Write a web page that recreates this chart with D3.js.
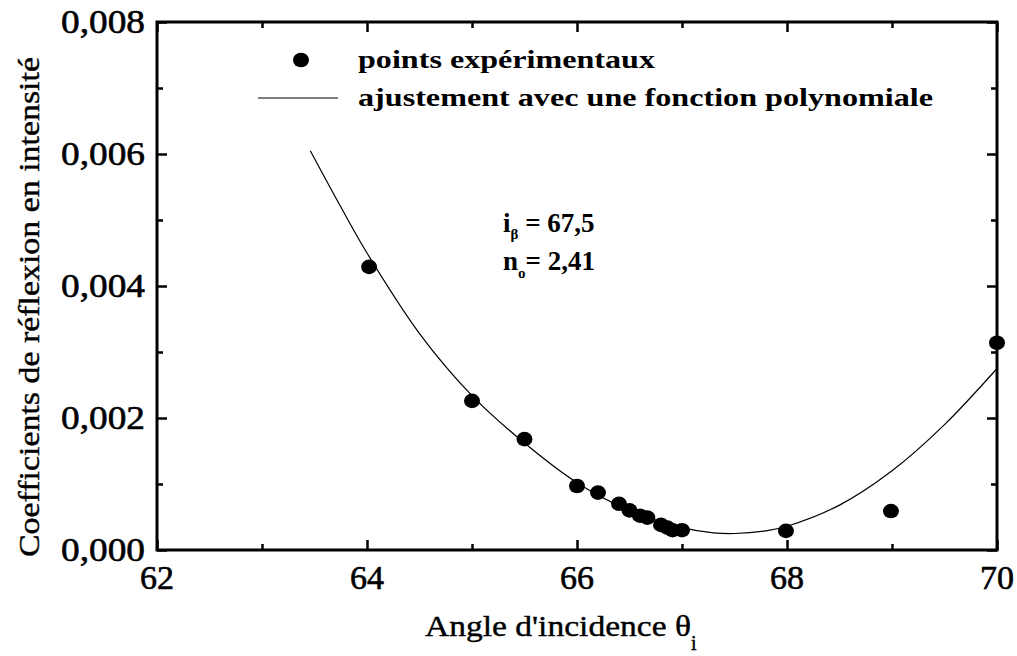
<!DOCTYPE html>
<html>
<head>
<meta charset="utf-8">
<script src="https://cdn.jsdelivr.net/npm/d3@7.8.5/dist/d3.min.js"></script>
<style>
  body { margin: 0; background: #fff; }
</style>
</head>
<body>
<div id="chart"></div>
<script>
// measured points (angle in degrees, reflection coefficient)
const angles = [64.02, 65.0, 65.5, 66.0, 66.2, 66.4, 66.5, 66.6, 66.67, 66.8, 66.86, 66.91, 67.0, 67.99, 68.99, 70.0];
const coeffs = [0.00429, 0.00226, 0.00168, 0.00097, 0.00087, 0.0007, 0.0006, 0.00052, 0.00049, 0.00038, 0.00034, 0.0003, 0.0003, 0.00029, 0.00059, 0.00314];

// polynomial fit
const fitAngles = [63.46, 63.75, 64.0, 64.5, 65.0, 65.5, 66.0, 66.5, 67.0, 67.3, 67.5, 67.8, 68.0, 68.5, 69.0, 69.5, 70.0];
const fitValues = [0.00605, 0.0052, 0.0045, 0.00328, 0.00234, 0.00162, 0.00102, 0.0006, 0.00034, 0.00026, 0.00025, 0.00029, 0.00036, 0.00068, 0.0012, 0.0019, 0.00275];

const xTicks = [62, 64, 66, 68, 70];
const xMinor = [63, 65, 67, 69];
const yTicks = [0, 0.002, 0.004, 0.006, 0.008];
const yMinor = [0.001, 0.003, 0.005, 0.007];

const legendLabels = ["points expérimentaux", "ajustement avec une fonction polynomiale"];

const width = 1017, height = 656;
const margin = { top: 22, right: 20, bottom: 106, left: 157 };
const serif = "Liberation Serif";

const svg = d3.select("#chart").append("svg")
  .attr("width", width)
  .attr("height", height);

const x = d3.scaleLinear().domain([62, 70]).range([margin.left, width - margin.right]);
const y = d3.scaleLinear().domain([0, 0.008]).range([height - margin.bottom, margin.top]);

const fmt = (d) => d3.format(".3f")(d).replace(".", ",");

// ticks on all four sides, pointing inward
function tickLines(axisFn, scale, values, len, translate) {
  const g = svg.append("g").attr("transform", translate)
    .call(axisFn(scale).tickValues(values).tickSizeInner(-len).tickSizeOuter(0).tickFormat(""));
  g.select(".domain").remove();
  g.selectAll(".tick line").attr("stroke", "#000").attr("stroke-width", 2.5);
  return g;
}
const bottomY = y(0), topY = y(0.008);
tickLines(d3.axisBottom, x, xTicks, 10, `translate(0,${bottomY})`);
tickLines(d3.axisBottom, x, xMinor, 6, `translate(0,${bottomY})`);
tickLines(d3.axisTop, x, xTicks, 10, `translate(0,${topY})`);
tickLines(d3.axisTop, x, xMinor, 6, `translate(0,${topY})`);
tickLines(d3.axisLeft, y, yTicks, 10, `translate(${x(62)},0)`);
tickLines(d3.axisLeft, y, yMinor, 6, `translate(${x(62)},0)`);
tickLines(d3.axisRight, y, yTicks, 10, `translate(${x(70)},0)`);
tickLines(d3.axisRight, y, yMinor, 6, `translate(${x(70)},0)`);

// frame
svg.append("rect")
  .attr("x", x(62)).attr("y", topY)
  .attr("width", x(70) - x(62)).attr("height", bottomY - topY)
  .attr("fill", "none").attr("stroke", "#000").attr("stroke-width", 3);

// tick labels (slight stroke to match the heavy print)
svg.append("g").selectAll("text").data(xTicks).join("text")
  .attr("x", (d) => x(d)).attr("y", bottomY + 39)
  .attr("text-anchor", "middle")
  .attr("font-family", serif)
  .attr("stroke", "#000").attr("stroke-width", 0.6)
  .style("font-size", "34px")
  .text((d) => d);

svg.append("g").selectAll("text").data(yTicks).join("text")
  .attr("x", x(62) - 12).attr("y", (d) => y(d) + 11)
  .attr("text-anchor", "end")
  .attr("font-family", serif)
  .attr("stroke", "#000").attr("stroke-width", 0.6)
  .attr("textLength", 84).attr("lengthAdjust", "spacingAndGlyphs")
  .style("font-size", "34px")
  .text(fmt);

// axis titles
const xt = svg.append("text")
  .attr("x", 425).attr("y", 636)
  .attr("font-family", serif)
  .attr("stroke", "#000").attr("stroke-width", 0.4)
  .style("font-size", "30px");
xt.append("tspan").attr("textLength", 266).attr("lengthAdjust", "spacingAndGlyphs").text("Angle d'incidence θ");
xt.append("tspan").attr("dy", 14).style("font-size", "20px").text("i");

svg.append("text")
  .attr("transform", `translate(39,307) rotate(-90)`)
  .attr("text-anchor", "middle")
  .attr("font-family", serif)
  .attr("stroke", "#000").attr("stroke-width", 0.4)
  .attr("textLength", 500).attr("lengthAdjust", "spacingAndGlyphs")
  .style("font-size", "30px")
  .text("Coefficients de réflexion en intensité");

// fit curve
const fit = fitAngles.map((a, i) => [a, fitValues[i]]);
svg.append("path")
  .datum(fit)
  .attr("fill", "none")
  .attr("stroke", "#000")
  .attr("stroke-width", 1.2)
  .attr("d", d3.line().x((d) => x(d[0])).y((d) => y(d[1])).curve(d3.curveCatmullRom));

// experimental points
svg.append("g").selectAll("ellipse").data(angles).join("ellipse")
  .attr("cx", (d) => x(d))
  .attr("cy", (d, i) => y(coeffs[i]))
  .attr("rx", 8).attr("ry", 7.3)
  .attr("fill", "#000");

// legend
svg.append("ellipse").attr("cx", 301).attr("cy", 60).attr("rx", 8).attr("ry", 7.3).attr("fill", "#000");
svg.append("line").attr("x1", 258).attr("x2", 338).attr("y1", 98).attr("y2", 98)
  .attr("stroke", "#000").attr("stroke-width", 1.2);
svg.append("text").attr("x", 358).attr("y", 68)
  .attr("font-family", serif)
  .style("font-size", "26px").style("font-weight", "bold")
  .attr("textLength", 297).attr("lengthAdjust", "spacingAndGlyphs")
  .text(legendLabels[0]);
svg.append("text").attr("x", 358).attr("y", 106)
  .attr("font-family", serif)
  .style("font-size", "26px").style("font-weight", "bold")
  .attr("textLength", 575).attr("lengthAdjust", "spacingAndGlyphs")
  .text(legendLabels[1]);

// annotation
const a1 = svg.append("text").attr("x", 503).attr("y", 232)
  .attr("font-family", serif)
  .style("font-size", "27px").style("font-weight", "bold");
a1.append("tspan").text("i");
a1.append("tspan").attr("dy", 7).style("font-size", "15px").text("β");
a1.append("tspan").attr("dy", -7).text(" = 67,5");

const a2 = svg.append("text").attr("x", 503).attr("y", 270)
  .attr("font-family", serif)
  .style("font-size", "27px").style("font-weight", "bold");
a2.append("tspan").text("n");
a2.append("tspan").attr("dy", 8).style("font-size", "15px").text("o");
a2.append("tspan").attr("dy", -8).text("= 2,41");
</script>
</body>
</html>
